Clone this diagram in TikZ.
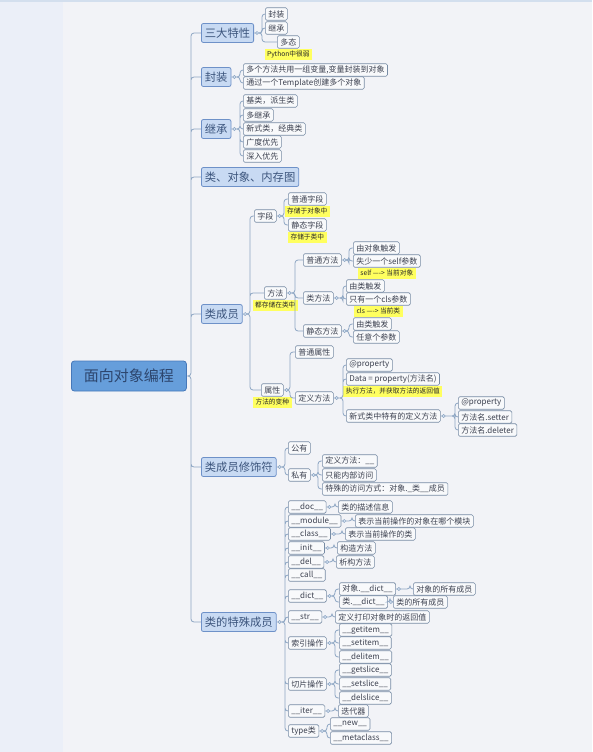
\documentclass[tikz,border=0pt]{standalone}
\usepackage{fontspec}
\setmainfont{Noto Sans CJK SC}
\usepackage{tikz}
\usetikzlibrary{positioning}
\definecolor{bgCol}{RGB}{242,243,247}
\definecolor{stripCol}{RGB}{235,239,248}
\definecolor{topCol}{RGB}{211,223,238}
\definecolor{rootFill}{RGB}{102,158,219}
\definecolor{rootBorder}{RGB}{70,120,185}
\definecolor{rootText}{RGB}{45,70,110}
\definecolor{mainFill}{RGB}{200,218,243}
\definecolor{mainBorder}{RGB}{110,145,200}
\definecolor{mainText}{RGB}{60,85,125}
\definecolor{subFill}{RGB}{248,249,251}
\definecolor{subBorder}{RGB}{120,140,165}
\definecolor{subText}{RGB}{60,65,80}
\definecolor{noteFill}{RGB}{255,255,95}
\definecolor{lineCol}{RGB}{140,165,195}
\definecolor{knobFill}{RGB}{215,228,243}
\tikzset{
    rootTopic/.style={draw=rootBorder, fill=rootFill, rounded corners=3pt, line width=.8pt,
        text=rootText, font=\fontsize{15}{18}\selectfont, minimum width=115pt, minimum height=30pt, anchor=west},
    mainTopic/.style={draw=mainBorder, fill=mainFill, rounded corners=2pt, line width=.8pt,
        text=mainText, font=\fontsize{11.3}{13}\selectfont, inner xsep=3.5pt, inner ysep=0pt, minimum height=19pt, anchor=west},
    subTopic/.style={draw=subBorder, fill=subFill, rounded corners=1.5pt, line width=.6pt,
        text=subText, font=\fontsize{8}{9}\selectfont, inner xsep=3pt, inner ysep=0pt, minimum height=12.5pt, anchor=west},
    noteLabel/.style={fill=noteFill, text=black!85, font=\fontsize{6.7}{7}\selectfont, inner xsep=2.5pt, inner ysep=0pt, minimum height=11pt},
    elbow/.style={to path={(\tikztostart.east) -| ([xshift=-#1]\tikztotarget.west) -- (\tikztotarget.west)}},
    elbow/.default=3pt,
    branchLine/.style={draw=lineCol, line width=.8pt, rounded corners=3pt, elbow},
    knob/.style={draw=lineCol, fill=knobFill, line width=.5pt}
}
\begin{document}
\begin{tikzpicture}[x=1pt,y=-1pt]
	\fill[bgCol] (0,0) rectangle (592,752);
	\fill[stripCol] (0,0) rectangle (63,752);
	\fill[topCol] (0,0) rectangle (592,2);
	\useasboundingbox (0,0) rectangle (592,752);

	\node[rootTopic] (root) at (71,376) {面向对象编程};

	\node[mainTopic] (san) at (201,33) {三大特性};
	\node[mainTopic] (fz) at (201,77) {封装};
	\node[mainTopic] (jc) at (201,129) {继承};
	\node[mainTopic] (ldx) at (201,177) {类、对象、内存图};
	\node[mainTopic] (lcy) at (201,314) {类成员};
	\node[mainTopic] (xsf) at (201,467) {类成员修饰符};
	\node[mainTopic] (tscy) at (201,622) {类的特殊成员};

	\node[subTopic] (sanFz) at (265,14) {封装};
	\node[subTopic] (sanJc) at (265,28) {继承};
	\node[subTopic] (sanDt) at (277,42) {多态};
	\node[noteLabel, below=0pt of sanDt] (sanDtN) {Python中很弱};

	\node[subTopic] (fzA) at (243,70) {多个方法共用一组变量,变量封装到对象};
	\node[subTopic] (fzB) at (243,83) {通过一个Template创建多个对象};

	\node[subTopic] (jcA) at (243,101) {基类，派生类};
	\node[subTopic] (jcB) at (243,115) {多继承};
	\node[subTopic] (jcC) at (243,129) {新式类，经典类};
	\node[subTopic] (jcD) at (243,142) {广度优先};
	\node[subTopic] (jcE) at (243,156) {深入优先};

	\node[subTopic] (zd) at (254,216) {字段};
	\node[subTopic] (ptzd) at (288,199) {普通字段};
	\node[noteLabel, below=0pt of ptzd] (ptzdN) {存储于对象中};
	\node[subTopic] (jtzd) at (288,225) {静态字段};
	\node[noteLabel, below=0pt of jtzd] (jtzdN) {存储于类中};

	\node[subTopic] (ff) at (264,293) {方法};
	\node[noteLabel, below=0pt of ff] (ffN) {都存储在类中};
	\node[subTopic] (ptff) at (303,260) {普通方法};
	\node[subTopic] (ptffA) at (353,248) {由对象触发};
	\node[subTopic] (ptffB) at (353,261) {失少一个self参数};
	\node[noteLabel, below=0pt of ptffB] (ptffN) {self ----> 当前对象};
	\node[subTopic] (lff) at (303,298) {类方法};
	\node[subTopic] (lffA) at (346,286) {由类触发};
	\node[subTopic] (lffB) at (346,299) {只有一个cls参数};
	\node[noteLabel, below=0pt of lffB] (lffN) {cls ----> 当前类};
	\node[subTopic] (jtff) at (303,331) {静态方法};
	\node[subTopic] (jtffA) at (353,324) {由类触发};
	\node[subTopic] (jtffB) at (353,337) {任意个参数};

	\node[subTopic] (sx) at (261,390) {属性};
	\node[noteLabel, below=0pt of sx] (sxN) {方法的变种};
	\node[subTopic] (ptsx) at (295,352) {普通属性};
	\node[subTopic] (dyff) at (295,398) {定义方法};
	\node[subTopic] (dyA) at (346,365) {@property};
	\node[subTopic] (dyB) at (346,379) {Data = property(方法名)};
	\node[noteLabel, below=0pt of dyB] (dyBN) {执行方法，并获取方法的返回值};
	\node[subTopic] (dyC) at (346,416) {新式类中特有的定义方法};
	\node[subTopic] (xsA) at (458,403) {@property};
	\node[subTopic] (xsB) at (458,417) {方法名.setter};
	\node[subTopic] (xsC) at (458,430) {方法名.deleter};

	\node[subTopic] (gy) at (288,448) {公有};
	\node[subTopic] (sy) at (288,475) {私有};
	\node[subTopic] (syA) at (322,461) {定义方法：\_\_};
	\node[subTopic] (syB) at (322,475) {只能内部访问};
	\node[subTopic] (syC) at (322,489) {特殊的访问方式：对象.\_类\_\_成员};

	\node[subTopic] (doc) at (288,507) {\_\_doc\_\_};
	\node[subTopic] (docD) at (338,507) {类的描述信息};
	\node[subTopic] (mod) at (288,521) {\_\_module\_\_};
	\node[subTopic] (modD) at (355,521) {表示当前操作的对象在哪个模块};
	\node[subTopic] (cls) at (288,534) {\_\_class\_\_};
	\node[subTopic] (clsD) at (345,534) {表示当前操作的类};
	\node[subTopic] (init) at (288,548) {\_\_init\_\_};
	\node[subTopic] (initD) at (337,548) {构造方法};
	\node[subTopic] (del) at (288,562) {\_\_del\_\_};
	\node[subTopic] (delD) at (336,562) {析构方法};
	\node[subTopic] (call) at (288,575) {\_\_call\_\_};
	\node[subTopic] (dict) at (288,596) {\_\_dict\_\_};
	\node[subTopic] (dictA) at (339,589) {对象.\_\_dict\_\_};
	\node[subTopic] (dictAD) at (413,589) {对象的所有成员};
	\node[subTopic] (dictB) at (339,602) {类.\_\_dict\_\_};
	\node[subTopic] (dictBD) at (393,602) {类的所有成员};
	\node[subTopic] (str) at (288,617) {\_\_str\_\_};
	\node[subTopic] (strD) at (335,617) {定义打印对象时的返回值};
	\node[subTopic] (syz) at (288,643) {索引操作};
	\node[subTopic] (gi) at (339,630) {\_\_getitem\_\_};
	\node[subTopic] (si) at (339,643) {\_\_setitem\_\_};
	\node[subTopic] (di) at (339,657) {\_\_delitem\_\_};
	\node[subTopic] (qp) at (288,684) {切片操作};
	\node[subTopic] (gs) at (339,670) {\_\_getslice\_\_};
	\node[subTopic] (ss) at (339,684) {\_\_setslice\_\_};
	\node[subTopic] (ds) at (339,698) {\_\_delslice\_\_};
	\node[subTopic] (iter) at (288,711) {\_\_iter\_\_};
	\node[subTopic] (iterD) at (338,711) {迭代器};
	\node[subTopic] (tp) at (288,731) {type类};
	\node[subTopic] (new) at (330,724) {\_\_new\_\_};
	\node[subTopic] (meta) at (330,738) {\_\_metaclass\_\_};

	\draw[branchLine] (root) to[elbow=10pt] (san) (root) to[elbow=10pt] (fz) (root) to[elbow=10pt] (jc)
		(root) to[elbow=10pt] (ldx) (root) to[elbow=10pt] (lcy) (root) to[elbow=10pt] (xsf) (root) to[elbow=10pt] (tscy);
	\draw[branchLine] (san) to (sanFz) (san) to (sanJc) (san) to[elbow=15pt] (sanDt);
	\draw[branchLine] (fz) to (fzA) (fz) to (fzB);
	\draw[branchLine] (jc) to (jcA) (jc) to (jcB) (jc) to (jcC) (jc) to (jcD) (jc) to (jcE);
	\draw[branchLine] (lcy) to[elbow=4pt] (zd) (lcy) to[elbow=14pt] (ff) (lcy) to[elbow=11pt] (sx);
	\draw[branchLine] (zd) to[elbow=4pt] (ptzd) (zd) to[elbow=4pt] (jtzd);
	\draw[branchLine] (ff) to[elbow=8pt] (ptff) (ff) to[elbow=8pt] (lff) (ff) to[elbow=8pt] (jtff);
	\draw[branchLine] (ptff) to[elbow=4pt] (ptffA) (ptff) to[elbow=4pt] (ptffB);
	\draw[branchLine] (lff) to (lffA) (lff) to (lffB);
	\draw[branchLine] (jtff) to[elbow=4pt] (jtffA) (jtff) to[elbow=4pt] (jtffB);
	\draw[branchLine] (sx) to[elbow=5pt] (ptsx) (sx) to[elbow=5pt] (dyff);
	\draw[branchLine] (dyff) to (dyA) (dyff) to (dyB) (dyff) to (dyC);
	\draw[branchLine] (dyC) to (xsA) (dyC) to (xsB) (dyC) to (xsC);
	\draw[branchLine] (xsf) to (gy) (xsf) to (sy);
	\draw[branchLine] (sy) to[elbow=4pt] (syA) (sy) to[elbow=4pt] (syB) (sy) to[elbow=4pt] (syC);
	\draw[branchLine] (tscy) to (doc) (tscy) to (mod) (tscy) to (cls) (tscy) to (init) (tscy) to (del) (tscy) to (call)
		(tscy) to (dict) (tscy) to (str) (tscy) to (syz) (tscy) to (qp) (tscy) to (iter) (tscy) to (tp);
	\draw[branchLine] (doc) to (docD) (mod) to (modD) (cls) to (clsD) (init) to (initD) (del) to (delD)
		(str) to (strD) (iter) to (iterD) (dictA) to (dictAD) (dictB) to (dictBD);
	\draw[branchLine] (dict) to[elbow=4pt] (dictA) (dict) to[elbow=4pt] (dictB);
	\draw[branchLine] (syz) to[elbow=4pt] (gi) (syz) to[elbow=4pt] (si) (syz) to[elbow=4pt] (di);
	\draw[branchLine] (qp) to[elbow=4pt] (gs) (qp) to[elbow=4pt] (ss) (qp) to[elbow=4pt] (ds);
	\draw[branchLine] (tp) to (new) (tp) to (meta);

	\filldraw[knob] ([xshift=3pt]san.east) circle (1.6pt) ([xshift=3pt]fz.east) circle (1.6pt)
		([xshift=3pt]jc.east) circle (1.6pt) ([xshift=2.5pt]lcy.east) circle (1.6pt)
		([xshift=3pt]xsf.east) circle (1.6pt) ([xshift=3pt]tscy.east) circle (1.6pt)
		([xshift=3pt]zd.east) circle (1.6pt) ([xshift=3pt]ff.east) circle (1.6pt)
		([xshift=3pt]ptff.east) circle (1.6pt) ([xshift=3pt]lff.east) circle (1.6pt)
		([xshift=3pt]jtff.east) circle (1.6pt) ([xshift=3pt]sx.east) circle (1.6pt)
		([xshift=3pt]dyff.east) circle (1.6pt) ([xshift=3pt]dyC.east) circle (1.6pt)
		([xshift=3pt]sy.east) circle (1.6pt) ([xshift=3pt]doc.east) circle (1.6pt)
		([xshift=3pt]mod.east) circle (1.6pt) ([xshift=3pt]cls.east) circle (1.6pt)
		([xshift=3pt]init.east) circle (1.6pt) ([xshift=3pt]del.east) circle (1.6pt)
		([xshift=3pt]dict.east) circle (1.6pt) ([xshift=3pt]dictA.east) circle (1.6pt)
		([xshift=3pt]dictB.east) circle (1.6pt) ([xshift=3pt]str.east) circle (1.6pt)
		([xshift=3pt]syz.east) circle (1.6pt) ([xshift=3pt]qp.east) circle (1.6pt)
		([xshift=3pt]iter.east) circle (1.6pt) ([xshift=3pt]tp.east) circle (1.6pt);
\end{tikzpicture}
\end{document}
